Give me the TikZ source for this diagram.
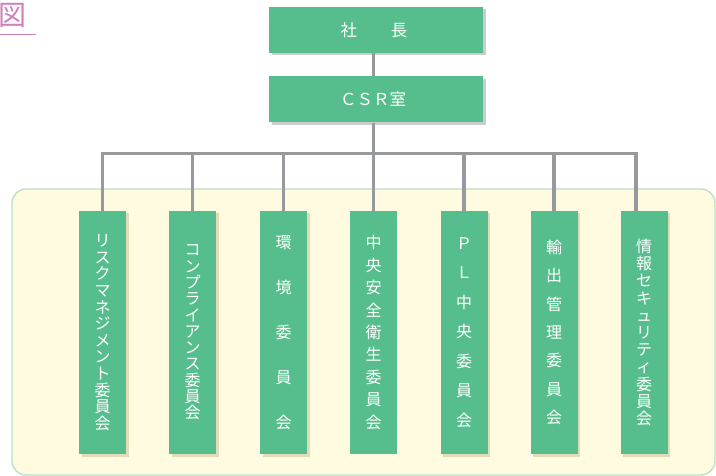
\documentclass[tikz,border=0pt]{standalone}
\usepackage{fontspec}
\usetikzlibrary{shadows}
\newfontfamily\cjk{Noto Sans CJK JP}
\definecolor{boxgreen}{RGB}{86,190,140}
\definecolor{linegray}{RGB}{152,153,156}
\definecolor{panelfill}{RGB}{254,251,224}
\definecolor{panelborder}{RGB}{184,224,198}
\definecolor{figpink}{RGB}{208,128,186}
\definecolor{shadowtan}{RGB}{226,218,184}
\definecolor{shadowgray}{RGB}{204,204,204}
\begin{document}
\begin{tikzpicture}[x=1bp,y=-1bp,
  orgbox/.style={fill=boxgreen, draw=none, text=white, inner sep=0pt},
  topbox/.style={orgbox, minimum width=214bp, minimum height=46bp,
    font=\cjk\fontsize{16.5bp}{17bp}\selectfont,
    drop shadow={shadow xshift=2.5bp, shadow yshift=-2.5bp, fill=shadowgray, opacity=1}},
  combox/.style={orgbox, minimum width=47bp, minimum height=243bp, align=center,
    font=\cjk\fontsize{16bp}{#1}\selectfont},
  shad/.style={drop shadow={shadow xshift=2.5bp, shadow yshift=-2.5bp, fill=shadowtan, opacity=1}},
  conn/.style={draw=linegray, line width=3.8bp},
]
\useasboundingbox (0,0) rectangle (716,476);
% panel
\draw[fill=panelfill, draw=panelborder, line width=1.3bp, rounded corners=14bp] (12,189) rectangle (715,475);
% title
\node[text=figpink, font=\cjk\fontsize{28bp}{28bp}\selectfont, inner sep=0pt] (fig) at (12.5,15.5) {図};
\draw[figpink, line width=1bp] (0,34.7) -- (36,34.7);
% top boxes
\node[topbox] (ceo) at (376,30) {\hspace*{-4bp}社\hspace{34bp}長};
\node[topbox] (csr) at (376,99.5) {\hspace*{-6bp}ＣＳＲ室};
% committees
\node[combox=16.6bp, shad] (c1) at (102.5,332.5) {リ\\ス\\ク\\マ\\ネ\\ジ\\メ\\ン\\ト\\委\\員\\会};
\node[combox=16.3bp, shad] (c2) at (192.5,332.5) {コ\\ン\\プ\\ラ\\イ\\ア\\ン\\ス\\委\\員\\会};
\node[combox=45bp, shad] (c3) at (283.5,332.5) {環\\境\\委\\員\\会};
\node[combox=22.4bp] (c4) at (373.5,332.5) {中\\央\\安\\全\\衛\\生\\委\\員\\会};
\node[combox=29.5bp, shad] (c5) at (464,332.5) {Ｐ\\Ｌ\\中\\央\\委\\員\\会};
\node[combox=28.3bp, shad] (c6) at (554,332.5) {輸\\出\\管\\理\\委\\員\\会};
\node[combox=17.2bp, shad] (c7) at (644,332.5) {情\\報\\セ\\キ\\ュ\\リ\\テ\\ィ\\委\\員\\会};
% connectors
\coordinate (bus) at (0,153.5);
\coordinate (c7x) at (636,0);
\draw[conn] (ceo.south -| c4) -- (csr.north -| c4);
\draw[conn] (csr.south -| c4) -- (c4.north);
\draw[conn, line join=miter] (c1.north) -- (c1.north |- bus) -- (bus -| c7x) -- (c7x |- c7.north);
\foreach \n in {c2,c3,c5,c6}{
  \draw[conn] (\n.north |- bus) -- (\n.north);
}
\end{tikzpicture}
\end{document}
